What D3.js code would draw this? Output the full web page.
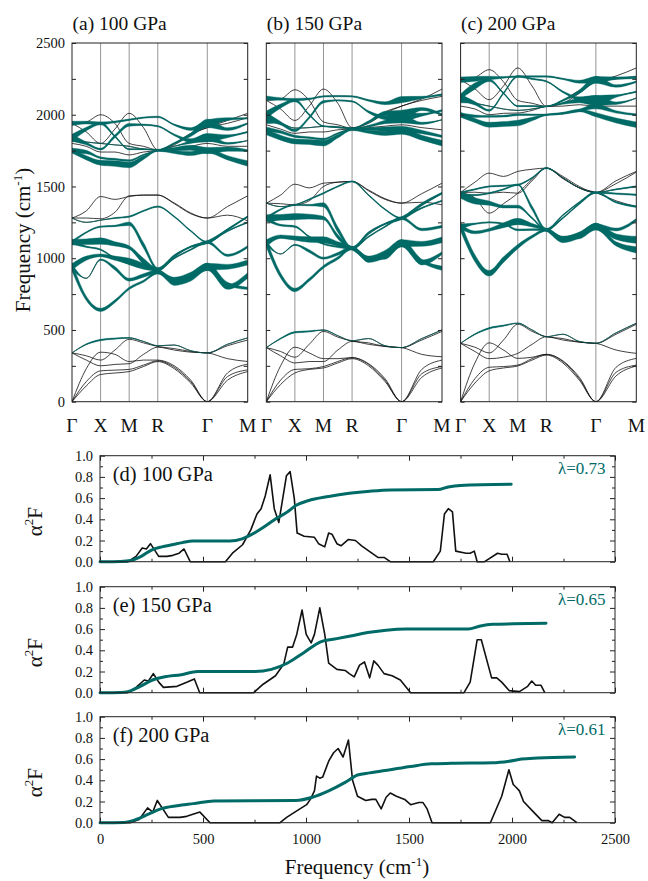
<!DOCTYPE html>
<html><head><meta charset="utf-8">
<script src="https://cdn.jsdelivr.net/npm/d3@7"></script>
<style>
body{margin:0;background:#fff}
svg{display:block}
</style>
</head><body>
<svg id="fig" width="648" height="881"></svg>
<script>
// ---------- high-symmetry path ----------
const kNodes = [0, 0.5, 1.0, 1.5, 2.366, 3.073];
const kLabels = ['Γ', 'X', 'M', 'R', 'Γ', 'M'];
const segSteps = [2, 2, 2, 3, 2];   // sample intervals per path segment

// ---------- phonon branches (cm^-1) at the path samples ----------
const freq100 = [
 [0,110,190,200,210,245,280,230,130,0,150,210],
 [0,140,215,220,225,255,285,240,140,0,175,222],
 [0,230,345,330,280,290,290,250,150,0,200,262],
 [340,290,250,260,265,330,380,360,345,340,300,280],
 [340,320,290,360,435,410,385,370,350,340,390,430],
 [340,400,430,440,445,420,390,395,355,340,400,445],
 [940,720,640,700,790,840,900,840,870,940,820,790],
 [940,860,990,930,850,880,905,830,860,940,800,880],
 [940,1000,1020,1000,980,950,915,850,885,940,940,970],
 [1112,1080,1060,1000,960,930,920,1000,1060,1112,1020,1080],
 [1112,1115,1120,1100,1075,980,920,1010,1080,1112,1190,1250],
 [1112,1180,1220,1225,1240,1090,925,1020,1080,1112,1200,1290],
 [1280,1250,1265,1280,1290,1330,1360,1290,1190,1112,1200,1290],
 [1280,1330,1430,1410,1430,1440,1440,1380,1310,1280,1300,1260],
 [1280,1280,1275,1320,1435,1440,1440,1385,1315,1280,1360,1435],
 [1940,1950,2000,1940,1800,1780,1755,1800,1870,1910,1960,2010],
 [1940,1880,1800,1900,2010,1910,1755,1790,1860,1910,1940,1980],
 [1940,1945,1940,1950,1965,1980,1985,1930,1900,1940,1970,1975],
 [1840,1900,1940,1850,1760,1760,1755,1800,1860,1940,1900,1940],
 [1840,1800,1760,1850,1930,1930,1920,1860,1820,1840,1850,1880],
 [1830,1810,1800,1790,1780,1760,1755,1780,1810,1840,1800,1820],
 [1800,1780,1740,1740,1720,1740,1750,1760,1780,1800,1780,1780],
 [1750,1740,1700,1690,1680,1720,1750,1760,1770,1750,1760,1750],
 [1750,1700,1665,1660,1650,1700,1750,1740,1730,1750,1700,1660]
];
const wt100 = [
 [0,0,0,0,0,0,0,0,0,0,0,0],
 [0,0,0,0,0,0,0,0,0,0,0,0],
 [0,0,0,0,0,0,0,0,0,0,0,0],
 [0,0,0,0,0,0,0,0,0,0,0,0],
 [0,0,0,0,0,0,0,0,0,0,0,0],
 [0,0.15,0.2,0.18,0.08,0,0,0,0,0,0,0],
 [1.2,0.6,0.45,0.4,0.35,0.3,0.4,0.5,0.7,1.0,0.5,0.35],
 [0.9,0,0.2,0.5,0.4,0.5,0.5,0.8,0.8,1.0,0.7,0.8],
 [0.9,0.6,0.4,0.6,0.8,0.6,0.5,0.7,0.7,1.0,0.7,0.7],
 [0.6,0.2,0.2,0.2,0.2,0.25,0.3,0.2,0.2,0.4,0.3,0.35],
 [0.8,0.8,0.9,0.6,0.5,0.8,0.4,0.18,0.18,0.4,0.2,0.2],
 [0.4,0.2,0.2,0.2,0.5,0.8,0.4,0.18,0.18,0.3,0.2,0.2],
 [0,0,0,0.15,0.2,0.18,0.18,0.18,0.18,0.2,0.2,0.2],
 [0,0,0,0,0,0,0,0,0,0,0,0],
 [0,0,0,0,0,0,0,0,0,0,0,0],
 [0,0,0,0,0,0,0,0,0,0,0,0],
 [0,0,0,0,0,0,0,0,0,0,0,0],
 [0.6,0.4,0.4,0.25,0.2,0.2,0.2,0.2,0.4,1.0,0.4,0.2],
 [1.0,0.5,0.4,0.25,0.15,0.15,0.15,0.25,0.5,1.2,0.4,0.2],
 [1.0,0.4,0.25,0.4,0.4,0.2,0.18,0.25,0.5,1.2,0.4,0.2],
 [0.7,0,0,0,0,0,0,0,0.4,1.0,0.25,0],
 [0,0,0,0,0,0,0,0,0,0,0,0],
 [0.7,0.5,0.25,0.25,0.25,0.2,0.18,0.5,0.7,0.9,0.6,0.25],
 [0.7,0.6,0.7,0.8,0.8,0.5,0.2,0.4,0.6,0.7,0.6,0.8]
];

const freq150 = [
 [0,120,200,225,235,270,300,250,140,0,170,235],
 [0,150,225,230,245,280,307,260,150,0,195,245],
 [0,250,380,340,300,300,307,265,160,0,225,290],
 [377,320,270,280,280,360,420,400,385,377,330,313],
 [377,350,310,400,490,450,423,410,385,377,430,490],
 [377,440,484,490,500,460,425,440,390,377,440,500],
 [1105,880,779,850,940,1000,1070,1000,1010,1105,980,930],
 [1105,1030,1093,1050,1000,1030,1070,990,1020,1105,970,1035],
 [1105,1150,1140,1130,1128,1100,1070,1000,1040,1105,1100,1128],
 [1279,1230,1221,1150,1100,1080,1070,1150,1220,1279,1200,1221],
 [1279,1285,1290,1290,1280,1150,1070,1170,1240,1279,1350,1400],
 [1279,1340,1372,1370,1372,1200,1070,1180,1240,1279,1380,1453],
 [1384,1360,1372,1410,1453,1500,1535,1440,1340,1279,1370,1453],
 [1384,1440,1516,1490,1523,1530,1535,1470,1410,1384,1450,1523],
 [1384,1380,1372,1400,1500,1530,1535,1475,1415,1384,1390,1372],
 [2100,2110,2174,2100,1950,1930,1905,1950,2020,2060,2110,2179],
 [2100,2040,1960,2060,2179,2080,1910,1940,2010,2060,2100,2128],
 [2116,2110,2105,2110,2128,2130,2128,2100,2080,2105,2120,2140],
 [2000,2060,2100,2000,1920,1915,1905,1950,2010,2000,2040,2000],
 [1990,1940,1890,1980,2090,2100,2093,2020,1980,1990,2000,2030],
 [1960,1940,1907,1910,1919,1910,1905,1920,1950,1970,1940,1965],
 [1930,1900,1870,1880,1880,1895,1900,1910,1920,1930,1910,1895],
 [1900,1880,1849,1840,1830,1870,1900,1900,1900,1900,1880,1849],
 [1880,1840,1814,1810,1802,1850,1895,1880,1870,1884,1840,1802]
];
const wt150 = [
 [0,0,0,0,0,0,0,0,0,0,0,0],
 [0,0,0,0,0,0,0,0,0,0,0,0],
 [0,0,0,0,0,0,0,0,0,0,0,0],
 [0,0,0,0,0,0,0,0,0,0,0,0],
 [0,0,0,0,0,0,0,0,0,0,0,0],
 [0,0.15,0.2,0.18,0.08,0,0,0,0,0,0,0],
 [1.2,0.7,0.5,0.45,0.4,0.4,0.4,0.5,0.7,1.0,0.5,0.6],
 [0.7,0,0.15,0.4,0.3,0.4,0.45,0.8,0.7,1.0,0.7,0.4],
 [1.0,0.5,0.6,0.8,0.9,0.6,0.5,0.6,0.6,1.0,0.7,0.8],
 [0.7,0.25,0.25,0.2,0.2,0.25,0.35,0.2,0.2,0.4,0.35,0.35],
 [1.0,0.8,0.9,0.7,0.5,0.6,0.4,0.18,0.18,0.4,0.2,0.2],
 [0.4,0.2,0.2,0.2,0.6,0.8,0.4,0.18,0.18,0.3,0.2,0.25],
 [0,0,0,0.15,0.2,0.18,0.18,0.18,0.18,0.2,0.2,0.2],
 [0,0,0,0,0,0,0,0,0,0,0,0],
 [0,0,0,0,0,0,0,0,0,0,0,0],
 [0,0,0,0,0,0,0,0,0,0,0,0],
 [0,0,0,0,0,0,0,0,0,0,0,0],
 [0.6,0.35,0.35,0.25,0.2,0.2,0.2,0.25,0.4,0.9,0.35,0.25],
 [1.1,0.6,0.4,0.25,0.15,0.15,0.15,0.3,0.6,1.3,0.4,0.25],
 [1.1,0.5,0.35,0.35,0.35,0.2,0.18,0.3,0.6,1.3,0.4,0.25],
 [0.9,0,0,0,0,0,0,0.25,0.5,1.1,0.3,0],
 [0,0,0,0,0,0,0,0,0,0,0,0],
 [0.6,0.4,0.3,0.25,0.25,0.2,0.18,0.4,0.6,0.8,0.5,0.3],
 [0.8,0.7,0.7,0.7,0.8,0.5,0.2,0.4,0.6,0.8,0.7,0.8]
];

const freq200 = [
 [0,130,215,235,249,290,325,270,150,0,180,249],
 [0,160,240,245,255,300,330,280,160,0,205,255],
 [0,270,410,360,302,310,330,285,170,0,240,302],
 [407,350,300,310,337,400,453,430,415,407,360,337],
 [407,380,340,430,540,490,453,440,415,407,470,540],
 [407,470,512,530,547,500,453,470,420,407,480,547],
 [1221,1000,895,990,1081,1150,1198,1140,1150,1221,1100,1058],
 [1221,1180,1198,1230,1256,1230,1198,1130,1160,1221,1150,1128],
 [1221,1240,1250,1240,1198,1200,1198,1140,1170,1221,1200,1267],
 [1442,1400,1384,1360,1360,1280,1198,1280,1380,1458,1390,1360],
 [1442,1440,1453,1480,1512,1350,1198,1300,1390,1458,1450,1442],
 [1458,1480,1500,1505,1512,1560,1628,1560,1490,1458,1480,1500],
 [1458,1530,1593,1570,1605,1620,1628,1570,1500,1458,1540,1605],
 [1458,1460,1453,1460,1453,1540,1628,1560,1490,1458,1520,1600],
 [1458,1420,1314,1380,1453,1550,1628,1555,1490,1458,1400,1360],
 [2244,2260,2314,2230,2100,2080,2058,2100,2170,2230,2270,2326],
 [2244,2180,2105,2200,2326,2200,2058,2080,2150,2230,2250,2267],
 [2244,2250,2256,2260,2267,2267,2267,2250,2230,2244,2255,2260],
 [2128,2200,2240,2150,2060,2060,2058,2100,2160,2244,2200,2230],
 [2120,2080,2030,2150,2267,2250,2233,2160,2110,2100,2130,2160],
 [2100,2080,2060,2040,2030,2040,2058,2080,2100,2100,2080,2116],
 [2060,2040,2000,2010,2012,2030,2058,2060,2070,2060,2060,2060],
 [2000,1990,1988,1990,2000,2000,2000,2010,2030,2058,2020,2000],
 [2000,1960,1930,1935,1942,1970,2000,2010,2030,2000,1960,1930]
];
const wt200 = [
 [0,0,0,0,0,0,0,0,0,0,0,0],
 [0,0,0,0,0,0,0,0,0,0,0,0],
 [0,0,0,0,0,0,0,0,0,0,0,0],
 [0,0,0,0,0,0,0,0,0,0,0,0],
 [0,0,0,0,0,0,0,0,0,0,0,0],
 [0,0.15,0.2,0.18,0.08,0,0,0,0,0,0,0],
 [1.3,1.0,0.8,0.8,0.6,0.4,0.4,0.5,0.6,1.0,0.6,0.9],
 [0.7,0.4,0.4,0.7,0.9,0.5,0.4,0.9,0.8,0.9,0.8,1.0],
 [0.7,0.2,0.2,0.2,0.25,0.25,0.25,0.4,0.5,0.8,0.4,0.4],
 [1.0,0.9,0.6,0.4,0.4,0.25,0.25,0.2,0.2,0.25,0.2,0.25],
 [0.2,0.18,0.18,0.18,0.2,0.6,0.4,0.18,0.18,0.2,0.2,0.2],
 [0.18,0.18,0.18,0.18,0.18,0.18,0.18,0,0,0,0.15,0.18],
 [0,0,0,0,0,0,0,0,0,0,0,0],
 [0,0,0,0,0,0,0,0,0,0,0,0],
 [0,0,0,0,0,0,0,0,0,0,0,0],
 [0,0,0,0,0,0,0,0,0,0,0,0],
 [0,0,0,0,0,0,0,0,0,0,0,0],
 [0.8,0.7,0.5,0.25,0.2,0.2,0.2,0.2,0.4,0.9,0.35,0.35],
 [0.7,0.9,0.35,0.2,0.15,0.15,0.15,0.25,0.5,1.0,0.35,0.2],
 [0.9,0.5,0.25,0.25,0.25,0.2,0.18,0.25,0.6,1.4,0.35,0.2],
 [0.7,0,0,0,0,0,0,0.3,0.7,1.4,0.35,0],
 [0,0,0,0,0,0,0,0,0,0,0,0],
 [0.5,0.35,0.25,0.25,0.25,0.2,0.18,0.25,0.35,0.7,0.35,0.25],
 [0.7,0.6,0.7,0.7,0.8,0.5,0.2,0.25,0.35,0.6,0.7,0.8]
];

// ---------- Eliashberg function and cumulative lambda ----------
const a2f100 = [[0,0],[135,0],[175,0.05],[205,0.13],[225,0.12],[245,0.17],[285,0.05],[325,0.05],[354,0.06],[384,0.08],[408,0.12],[438,0],[609,0],[643,0.08],[692,0.16],[732,0.3],[762,0.45],[782,0.5],[802,0.62],[826,0.82],[846,0.5],[868,0.37],[905,0.81],[923,0.85],[943,0.6],[957,0.27],[991,0.24],[1041,0.23],[1061,0.17],[1091,0.14],[1110,0.27],[1126,0.26],[1150,0.17],[1170,0.15],[1206,0.21],[1240,0.2],[1270,0.15],[1299,0.11],[1349,0.04],[1379,0.04],[1409,0],[1618,0],[1652,0.1],[1672,0.45],[1691,0.5],[1711,0.47],[1727,0.1],[1777,0.08],[1797,0.08],[1817,0.1],[1831,0],[1867,0],[1930,0.08],[1950,0.07],[1976,0.07],[1990,0]];
const lam100 = [[0,0],[100,0.003],[150,0.012],[200,0.05],[250,0.11],[300,0.14],[350,0.16],[400,0.18],[450,0.195],[630,0.195],[690,0.215],[730,0.25],[790,0.32],[850,0.4],[910,0.47],[950,0.53],[1010,0.575],[1110,0.615],[1210,0.645],[1310,0.665],[1410,0.677],[1640,0.68],[1690,0.705],[1750,0.72],[1996,0.73]];

const a2f150 = [[0,0],[135,0],[175,0.05],[215,0.12],[235,0.11],[259,0.18],[285,0.1],[308,0.05],[374,0.06],[424,0.1],[458,0.13],[484,0],[746,0],[792,0.08],[852,0.16],[892,0.27],[911,0.43],[935,0.43],[955,0.55],[981,0.78],[1001,0.55],[1025,0.47],[1041,0.55],[1067,0.8],[1091,0.55],[1110,0.28],[1150,0.22],[1190,0.21],[1210,0.18],[1234,0.15],[1260,0.26],[1284,0.29],[1309,0.14],[1329,0.3],[1349,0.26],[1379,0.18],[1418,0.16],[1458,0.12],[1508,0],[1767,0],[1797,0.1],[1831,0.5],[1851,0.5],[1901,0.14],[1926,0.14],[1950,0.1],[1986,0.02],[2036,0.01],[2076,0.06],[2096,0.11],[2115,0.07],[2141,0.07],[2159,0]];
const lam150 = [[0,0],[100,0.003],[135,0.01],[195,0.06],[255,0.12],[315,0.15],[394,0.17],[474,0.2],[752,0.2],[832,0.22],[911,0.28],[991,0.38],[1071,0.48],[1150,0.51],[1230,0.54],[1309,0.57],[1389,0.59],[1488,0.6],[1787,0.6],[1847,0.63],[1906,0.645],[2006,0.65],[2165,0.655]];

const a2f200 = [[0,0],[146,0],[190,0.03],[231,0.14],[256,0.1],[278,0.21],[332,0.05],[388,0.05],[421,0.06],[485,0.1],[534,0],[874,0],[906,0.05],[938,0.09],[1003,0.17],[1021,0.22],[1041,0.3],[1051,0.44],[1067,0.42],[1081,0.43],[1110,0.58],[1134,0.66],[1156,0.7],[1180,0.62],[1206,0.78],[1226,0.4],[1250,0.25],[1290,0.21],[1319,0.22],[1339,0.22],[1365,0.13],[1389,0.24],[1409,0.28],[1439,0.25],[1479,0.22],[1508,0.17],[1548,0.19],[1568,0.19],[1588,0.13],[1612,0],[1895,0],[1950,0.25],[1985,0.5],[2006,0.36],[2022,0.33],[2036,0.3],[2056,0.2],[2105,0.1],[2145,0.02],[2175,0.02],[2195,0],[2229,0.08],[2255,0.05],[2280,0.05],[2315,0]];
const lam200 = [[0,0],[115,0.003],[175,0.03],[235,0.08],[295,0.13],[374,0.16],[454,0.18],[553,0.205],[951,0.21],[1031,0.24],[1110,0.3],[1190,0.38],[1250,0.45],[1309,0.47],[1409,0.5],[1508,0.53],[1608,0.555],[1707,0.56],[1906,0.565],[1986,0.58],[2046,0.6],[2125,0.61],[2304,0.62]];

const dispTitles = ['(a) 100 GPa', '(b) 150 GPa', '(c) 200 GPa'];
const a2fTitles = ['(d) 100 GPa', '(e) 150 GPa', '(f) 200 GPa'];
const lamTexts = ['λ=0.73', 'λ=0.65', 'λ=0.61'];

// ---------- drawing ----------
const TEAL = '#006a66';
const SERIF = '"Liberation Serif", "Times New Roman", "DejaVu Serif", serif';
const svg = d3.select('#fig');

const kSamples = [kNodes[0]];
segSteps.forEach((n, i) => {
  const a = kNodes[i], b = kNodes[i + 1];
  for (let j = 1; j <= n; j++) kSamples.push(a + (b - a) * j / n);
});

const dispLeft = [72, 266.3, 460.6];
const dispW = 175.7, dispTop = 43, dispBot = 401.7;
const fY = d3.scaleLinear().domain([0, 2500]).range([dispBot, dispTop]);
const HW = 3.5;   // half-width in px per unit weight

const dispSets = [[freq100, wt100], [freq150, wt150], [freq200, wt200]];

dispSets.forEach(([freqs, wts], p) => {
  const x0 = dispLeft[p];
  const kx = d3.scaleLinear().domain([0, kNodes[kNodes.length - 1]]).range([x0, x0 + dispW]);
  const g = svg.append('g');
  const clipId = 'clip' + p;
  svg.append('clipPath').attr('id', clipId).append('rect')
    .attr('x', x0).attr('y', dispTop).attr('width', dispW).attr('height', dispBot - dispTop);

  // high-symmetry verticals
  g.selectAll('line.node').data(kNodes.slice(1, -1)).join('line')
    .attr('class', 'node')
    .attr('x1', d => kx(d)).attr('x2', d => kx(d))
    .attr('y1', dispTop).attr('y2', dispBot)
    .attr('stroke', '#8a8a8a').attr('stroke-width', 0.9);

  const bandsG = g.append('g').attr('clip-path', `url(#${clipId})`);
  const line = d3.line().x(d => kx(d[0])).y(d => fY(d[1])).curve(d3.curveMonotoneX);
  const area = d3.area().x(d => kx(d[0]))
    .y0(d => fY(d[1]) + d[2] * HW).y1(d => fY(d[1]) - d[2] * HW)
    .curve(d3.curveMonotoneX);

  freqs.forEach(row => {
    bandsG.append('path').attr('d', line(kSamples.map((k, j) => [k, row[j]])))
      .attr('fill', 'none').attr('stroke', '#111').attr('stroke-width', 0.8);
  });
  freqs.forEach((row, i) => {
    const w = wts[i];
    if (d3.max(w) <= 0) return;
    bandsG.append('path')
      .attr('d', area(kSamples.map((k, j) => [k, row[j], w[j]])))
      .attr('fill', TEAL).attr('stroke', TEAL).attr('stroke-width', 0.4);
  });

  // frame and ticks
  const yl = d3.axisLeft(fY).tickValues(d3.range(0, 2501, 250)).tickSizeInner(-4).tickSizeOuter(0)
    .tickPadding(7).tickFormat(d => (p === 0 && d % 500 === 0) ? d : '');
  const yr = d3.axisRight(fY).tickValues(d3.range(0, 2501, 250)).tickSizeInner(-4).tickSizeOuter(0).tickFormat('');
  const ga = g.append('g').attr('transform', `translate(${x0},0)`).call(yl);
  const gb = g.append('g').attr('transform', `translate(${x0 + dispW},0)`).call(yr);
  [ga, gb].forEach(s => { s.select('.domain').remove(); s.selectAll('line').attr('stroke', '#222'); });
  ga.selectAll('text').attr('font-size', 14.5);
  g.append('rect').attr('x', x0).attr('y', dispTop).attr('width', dispW).attr('height', dispBot - dispTop)
    .attr('fill', 'none').attr('stroke', '#222').attr('stroke-width', 1);

  // path labels
  g.selectAll('text.k').data(kNodes).join('text')
    .attr('class', 'k')
    .attr('x', (d) => kx(d)).attr('y', 432).attr('text-anchor', 'middle')
    .attr('font-size', 19.5).text((d, i) => kLabels[i]);

  g.append('text').attr('x', x0 + 0.5).attr('y', 29.5).attr('font-size', 19.5).text(dispTitles[p]);
});

// vertical axis title of the dispersion panels
const fl = svg.append('text').attr('transform', 'translate(30,240) rotate(-90)')
  .attr('text-anchor', 'middle').attr('font-size', 21);
fl.append('tspan').text('Frequency (cm');
fl.append('tspan').attr('font-size', 13).attr('dy', -8).text('-1');
fl.append('tspan').attr('dy', 8).text(')');

// ---------- Eliashberg panels ----------
const aLeft = 100, aRight = 615, aH = 106;
const aTops = [455.7, 586.7, 716.7];
const fx = d3.scaleLinear().domain([0, 2500]).range([aLeft, aRight]);
const a2fSets = [[a2f100, lam100], [a2f150, lam150], [a2f200, lam200]];

a2fSets.forEach(([a2f, lam], p) => {
  const top = aTops[p];
  const vy = d3.scaleLinear().domain([0, 1]).range([top + aH, top]);
  const g = svg.append('g');

  const xMaj = d3.range(0, 2501, 500), xMin = d3.range(250, 2500, 500);
  const yMaj = d3.range(0, 1.01, 0.2), yMin = d3.range(0.1, 1, 0.2);
  const axes = [
    [d3.axisBottom(fx).tickValues(xMaj).tickSizeInner(-5).tickPadding(11)
       .tickFormat(d => p === 2 ? d : ''), `translate(0,${top + aH})`],
    [d3.axisBottom(fx).tickValues(xMin).tickSizeInner(-3).tickFormat(''), `translate(0,${top + aH})`],
    [d3.axisTop(fx).tickValues(xMaj).tickSizeInner(-5).tickFormat(''), `translate(0,${top})`],
    [d3.axisTop(fx).tickValues(xMin).tickSizeInner(-3).tickFormat(''), `translate(0,${top})`],
    [d3.axisLeft(vy).tickValues(yMaj).tickSizeInner(-5).tickPadding(7).tickFormat(d3.format('.1f')), `translate(${aLeft},0)`],
    [d3.axisLeft(vy).tickValues(yMin).tickSizeInner(-3).tickFormat(''), `translate(${aLeft},0)`],
    [d3.axisRight(vy).tickValues(yMaj).tickSizeInner(-5).tickFormat(''), `translate(${aRight},0)`],
    [d3.axisRight(vy).tickValues(yMin).tickSizeInner(-3).tickFormat(''), `translate(${aRight},0)`]
  ];
  axes.forEach(([ax, tr]) => {
    const s = g.append('g').attr('transform', tr).call(ax.tickSizeOuter(0));
    s.select('.domain').remove();
    s.selectAll('line').attr('stroke', '#222');
    s.selectAll('text').attr('font-size', 14.5);
  });

  g.append('path').datum(a2f)
    .attr('d', d3.line().x(d => fx(d[0])).y(d => vy(d[1])))
    .attr('fill', 'none').attr('stroke', '#111').attr('stroke-width', 1.6).attr('stroke-linejoin', 'round');
  g.append('path').datum(lam)
    .attr('d', d3.line().x(d => fx(d[0])).y(d => vy(d[1])).curve(d3.curveMonotoneX))
    .attr('fill', 'none').attr('stroke', TEAL).attr('stroke-width', 3).attr('stroke-linecap', 'round');

  g.append('rect').attr('x', aLeft).attr('y', top).attr('width', aRight - aLeft).attr('height', aH)
    .attr('fill', 'none').attr('stroke', '#222').attr('stroke-width', 1);

  g.append('text').attr('x', aLeft + 12.7).attr('y', top + 25).attr('font-size', 20.5).text(a2fTitles[p]);
  g.append('text').attr('class', 'lam').attr('x', aRight - 9.5).attr('y', top + 18.5).attr('text-anchor', 'end')
    .attr('font-size', 17).text(lamTexts[p]);

  const yl = g.append('text').attr('transform', `translate(42,${top + aH / 2 + 13}) rotate(-90)`)
    .attr('text-anchor', 'middle').attr('font-size', 21);
  yl.append('tspan').text('α');
  yl.append('tspan').attr('font-size', 13).attr('dy', -9).text('2');
  yl.append('tspan').attr('dy', 9).text('F');
});

const xl = svg.append('text').attr('x', 357).attr('y', 874).attr('text-anchor', 'middle').attr('font-size', 21);
xl.append('tspan').text('Frequency (cm');
xl.append('tspan').attr('font-size', 13).attr('dy', -8).text('-1');
xl.append('tspan').attr('dy', 8).text(')');

// one serif face for every label
svg.selectAll('g').attr('font-family', null);
svg.selectAll('text').attr('font-family', SERIF).style('font-family', SERIF).attr('fill', '#111');
svg.selectAll('text.lam').attr('fill', TEAL);
</script>
</body></html>
